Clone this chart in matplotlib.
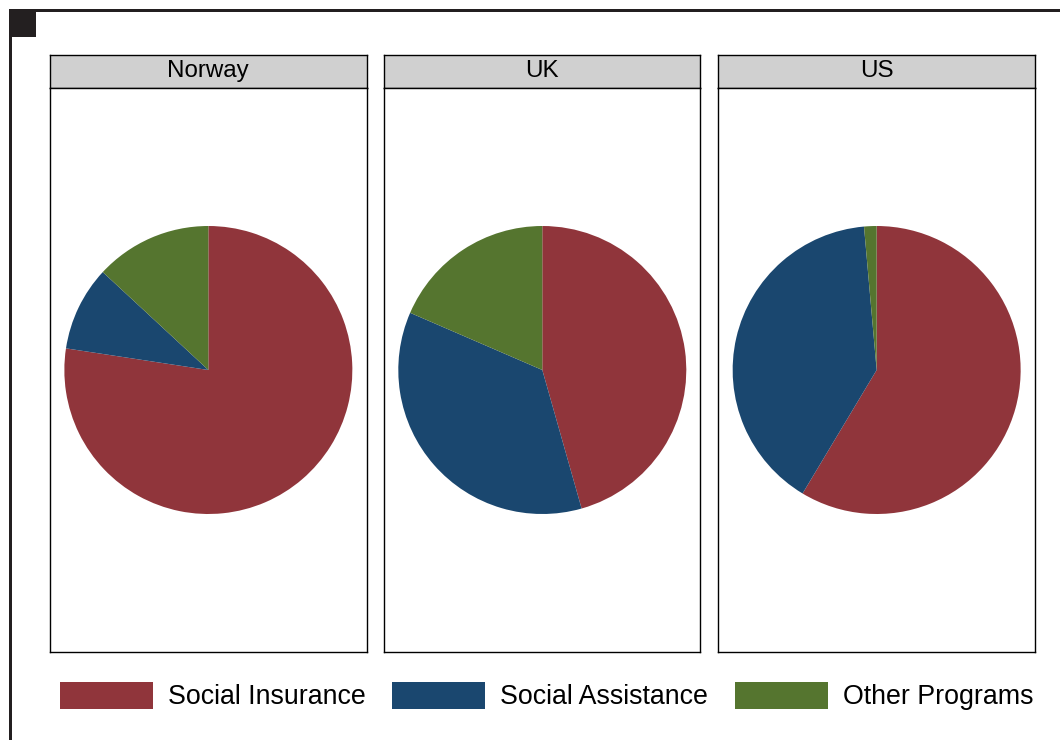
import matplotlib
matplotlib.use("Agg")
import matplotlib.pyplot as plt
from matplotlib.patches import Rectangle, Patch

plt.rcParams['font.family'] = ['Liberation Sans', 'DejaVu Sans']

countries = ['Norway', 'UK', 'US']
programs = ['Social Insurance', 'Social Assistance', 'Other Programs']
social_insurance = [77.4, 45.6, 58.6]
social_assistance = [9.5, 35.9, 40.0]
other_programs = [13.1, 18.5, 1.4]
colors = ['#90353B', '#1A476F', '#55752F']

W, H = 1060, 740
fig = plt.figure(figsize=(W / 100, H / 100), dpi=100)
fig.patch.set_facecolor('white')


def frac(x0, y0, x1, y1):
    """pixel box (top-left origin) -> figure fraction [l, b, w, h]"""
    return [x0 / W, 1 - y1 / H, (x1 - x0) / W, (y1 - y0) / H]


# outer frame (thick top and left lines plus corner square)
dark = '#231f20'
fig.add_artist(Rectangle((9 / W, 1 - 12.3 / H), 1 - 9 / W, 3.3 / H,
                         transform=fig.transFigure, color=dark, lw=0))
fig.add_artist(Rectangle((9 / W, 0), 3.3 / W, 1 - 9 / H,
                         transform=fig.transFigure, color=dark, lw=0))
fig.add_artist(Rectangle((12.3 / W, 1 - 36.7 / H), 23.7 / W, 24.4 / H,
                         transform=fig.transFigure, color=dark, lw=0))

panel_x = [(50, 366.7), (384.3, 700.3), (718.3, 1035)]
strip_top, strip_bot, plot_bot = 54.5, 87.7, 652.3
radius_px = 144

data = list(zip(social_insurance, social_assistance, other_programs))

for (x0, x1), name, vals in zip(panel_x, countries, data):
    # strip
    sax = fig.add_axes(frac(x0, strip_top, x1, strip_bot))
    sax.set_facecolor('#d0d0d0')
    sax.set_xticks([]); sax.set_yticks([])
    for s in sax.spines.values():
        s.set_color('black'); s.set_linewidth(1.0)
    sax.text(0.5, 0.5, name, ha='center', va='center', fontsize=17.4,
             transform=sax.transAxes)

    # plot area
    ax = fig.add_axes(frac(x0, strip_bot, x1, plot_bot))
    ax.pie(vals, colors=colors, startangle=90, counterclock=False,
           radius=1.0, wedgeprops=dict(linewidth=0), frame=True)
    ax.set_aspect('auto')
    hw = (x1 - x0) / 2 / radius_px
    hh = (plot_bot - strip_bot) / 2 / radius_px
    ax.set_xlim(-hw, hw)
    ax.set_ylim(-hh, hh)
    ax.set_frame_on(True)
    ax.set_xticks([]); ax.set_yticks([])
    for s in ax.spines.values():
        s.set_visible(True); s.set_color('black'); s.set_linewidth(1.0)

handles = [Patch(facecolor=c, edgecolor='none') for c in colors]
fs = 19.3
fpx = fs * 100 / 72
fig.legend(handles, programs, loc='center',
           bbox_to_anchor=(546.5 / W, 1 - 696 / H), ncol=3, frameon=False,
           fontsize=fs, handlelength=93 / fpx,
           handleheight=31.5 / fpx,
           handletextpad=15 / fpx,
           columnspacing=26.5 / fpx, borderpad=0)

fig.savefig('out.png', dpi=100, facecolor='white')
